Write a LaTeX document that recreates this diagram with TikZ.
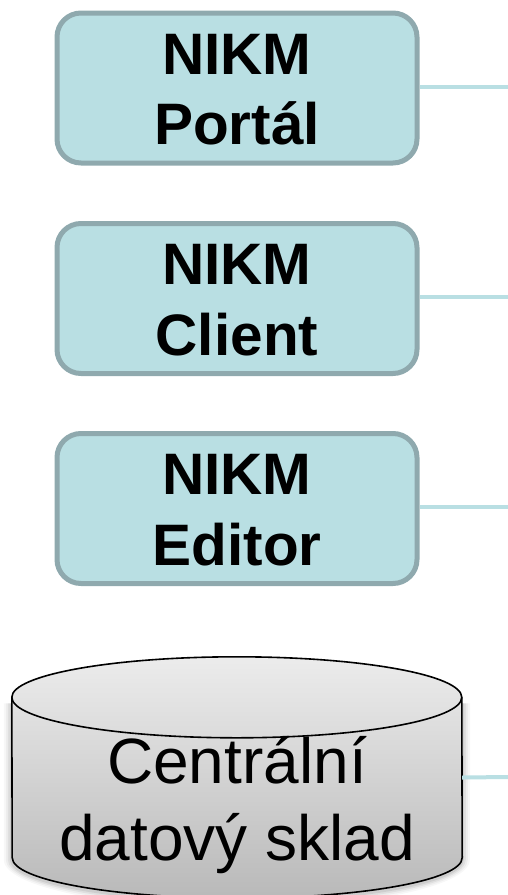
\documentclass[tikz,border=0pt]{standalone}
\usepackage{fontspec}
\setmainfont{Liberation Sans}
\definecolor{boxfill}{HTML}{B9DFE3}
\definecolor{boxline}{HTML}{8FA9AE}
\definecolor{cyltop}{HTML}{ECECEC}
\definecolor{cylbot}{HTML}{B9B9B9}
\newcommand{\toppad}{\rule{0pt}{43.3pt}}
\tikzset{
  appbox/.style={draw=boxline,fill=boxfill,line width=5pt,rounded corners=24pt,
    minimum width=360pt,minimum height=150pt,inner sep=0pt,align=center,
    font=\fontsize{58.5}{70.7}\selectfont\bfseries},
  link/.style={draw=boxfill,line width=4pt},
  storeshape/.style={minimum width=450pt,minimum height=241pt,inner sep=0pt},
  storetext/.style={inner sep=0pt,align=center,font=\fontsize{64}{77.5}\selectfont}
}
\begin{document}
\begin{tikzpicture}[x=1pt,y=-1pt]
\useasboundingbox (0,0) rectangle (508,895);
\node[appbox] (portal) at (237,88) {\toppad NIKM\\Portál};
\node[appbox] (client) at (237,298.5) {\toppad NIKM\\Client};
\node[appbox] (editor) at (237,508.5) {\toppad NIKM\\Editor};
\coordinate (e1) at (508,87);
\coordinate (e2) at (508,297);
\coordinate (e3) at (508,507);
\coordinate (e4) at (508,777);
\draw[link] (portal.east |- e1) -- (e1);
\draw[link] (client.east |- e2) -- (e2);
\draw[link] (editor.east |- e3) -- (e3);
\node[storeshape] (store) at (237,777.5) {};
\coordinate (sw) at ([yshift=40.5pt]store.south west);
\coordinate (se) at ([yshift=40.5pt]store.south east);
\coordinate (nw) at ([yshift=-40.5pt]store.north west);
\coordinate (ne) at ([yshift=-40.5pt]store.north east);
% soft shadow
\foreach \s/\o in {8/0.03,6/0.04,4/0.06,2/0.08}{
  \fill[black,opacity=\o] ([xshift=-\s pt,yshift=-6pt]nw) -- ([xshift=-\s pt,yshift=-2pt]sw)
    arc[start angle=180,end angle=360,x radius=225pt+\s pt,y radius=40.5pt+\s pt]
    -- ([xshift=\s pt,yshift=-6pt]ne) -- cycle;
}
\shade[top color=cyltop,bottom color=cylbot]
  (nw) arc[start angle=180,end angle=0,x radius=225pt,y radius=40.5pt]
  -- (se) arc[start angle=360,end angle=180,x radius=225pt,y radius=40.5pt] -- cycle;
\draw[black,line width=1.6pt,line join=round]
  (nw) arc[start angle=180,end angle=0,x radius=225pt,y radius=40.5pt]
  -- (se) arc[start angle=360,end angle=180,x radius=225pt,y radius=40.5pt] -- cycle;
\draw[black,line width=1.6pt] (nw) arc[start angle=180,end angle=360,x radius=225pt,y radius=40.5pt];
\node[storetext] (storelabel) at (237,805) {Centrální\\datový sklad};
\draw[link] (store.east) -- (e4);
\end{tikzpicture}
\end{document}
